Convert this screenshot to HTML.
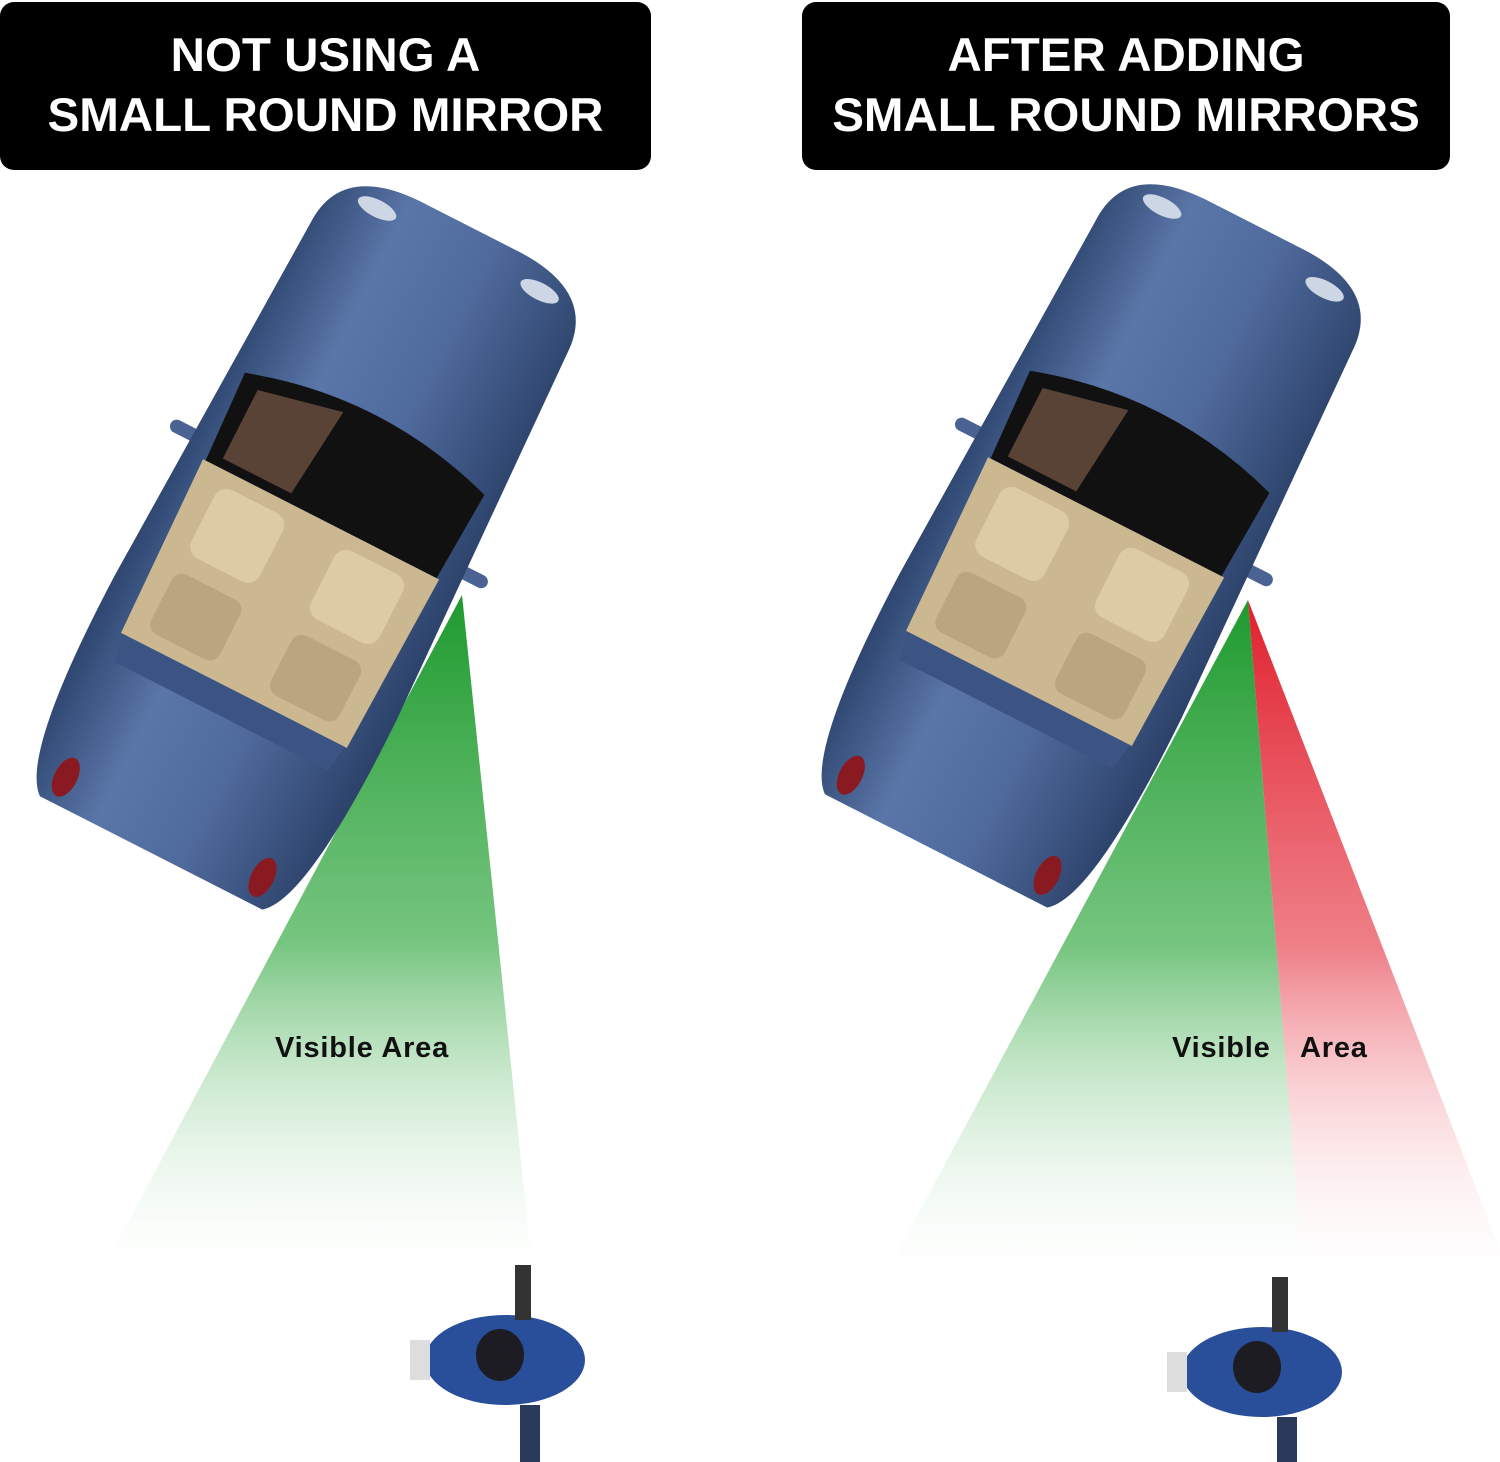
<!DOCTYPE html>
<html><head><meta charset="utf-8"><style>
html,body{margin:0;padding:0;background:#fff;}
body{width:1500px;height:1462px;overflow:hidden;position:relative;font-family:"Liberation Sans",sans-serif;}
.hdr{position:absolute;top:2px;height:168px;background:#000;border-radius:14px;color:#fff;font-weight:bold;font-size:47.5px;line-height:60px;text-align:center;display:flex;align-items:center;justify-content:center;}
.lbl{position:absolute;font-weight:bold;font-size:29px;letter-spacing:0.8px;color:#111;}
</style></head><body>
<svg width="1500" height="1462" style="position:absolute;left:0;top:0">
<defs>
<linearGradient id="gG" x1="0" y1="0" x2="0" y2="1"><stop offset="0" stop-color="#1e9a2e"/><stop offset="0.5" stop-color="#5fbb6a" stop-opacity="0.85"/><stop offset="1" stop-color="#ffffff" stop-opacity="0"/></linearGradient>
<linearGradient id="gR" x1="0" y1="0" x2="0" y2="1"><stop offset="0" stop-color="#e0202e"/><stop offset="0.5" stop-color="#ec6a74" stop-opacity="0.85"/><stop offset="1" stop-color="#ffffff" stop-opacity="0"/></linearGradient>
<linearGradient id="body" x1="0" y1="0" x2="1" y2="0"><stop offset="0" stop-color="#2e4670"/><stop offset="0.3" stop-color="#5a76a8"/><stop offset="0.6" stop-color="#4f6a9c"/><stop offset="1" stop-color="#2c426a"/></linearGradient>
<g id="car">
 <rect x="-185" y="-55" width="40" height="14" rx="7" fill="#4b6392"/>
 <rect x="145" y="-55" width="40" height="14" rx="7" fill="#4b6392"/>
 <path d="M-150,-300 Q-150,-370 -60,-372 L60,-372 Q150,-370 150,-300 L165,120 Q168,330 130,360 L-130,360 Q-168,330 -165,120 Z" fill="url(#body)"/>
 <path d="M-140,-130 Q0,-175 140,-130 L135,-30 L-135,-30 Z" fill="#111"/>
 <path d="M-120,-120 L-30,-140 L-40,-40 L-120,-40 Z" fill="#6b5040" opacity="0.8"/>
 <path d="M-138,-30 L138,-30 L132,170 L-132,170 Z" fill="#cbb890"/>
 <rect x="-110" y="-15" width="80" height="80" rx="14" fill="#ddcca3"/>
 <rect x="30" y="-15" width="80" height="80" rx="14" fill="#ddcca3"/>
 <rect x="-110" y="85" width="80" height="70" rx="12" fill="#b9a67e"/>
 <rect x="30" y="85" width="80" height="70" rx="12" fill="#b9a67e"/>
 <path d="M-130,170 L130,170 L125,200 L-125,200 Z" fill="#3c5484"/>
 <ellipse cx="-115" cy="330" rx="12" ry="22" fill="#8a1a22"/>
 <ellipse cx="115" cy="330" rx="12" ry="22" fill="#8a1a22"/>
 <ellipse cx="-95" cy="-345" rx="22" ry="9" fill="#cdd6e4"/>
 <ellipse cx="95" cy="-345" rx="22" ry="9" fill="#cdd6e4"/>
</g>
<g id="person">
 <ellipse cx="0" cy="0" rx="80" ry="45" fill="#2a4f9a"/>
 <ellipse cx="-5" cy="-5" rx="24" ry="26" fill="#1c1c22"/>
 <rect x="-95" y="-20" width="20" height="40" fill="#ddd"/>
 <rect x="15" y="45" width="20" height="60" fill="#2a3a5a"/>
 <rect x="10" y="-95" width="16" height="55" fill="#333"/>
</g>
</defs>
<polygon points="462,595 100,1275 535,1295" fill="url(#gG)"/>
<polygon points="1248,600 880,1285 1305,1300" fill="url(#gG)"/>
<polygon points="1248,600 1305,1300 1500,1290 1500,1250" fill="url(#gR)"/>
<use href="#car" transform="translate(308,545) rotate(27) scale(0.96)"/>
<use href="#car" transform="translate(1093,543) rotate(27) scale(0.96)"/>
<use href="#person" transform="translate(505,1360)"/>
<use href="#person" transform="translate(1262,1372)"/>
</svg>
<div class="hdr" style="left:0;width:651px;">NOT USING A<br>SMALL ROUND MIRROR</div>
<div class="hdr" style="left:802px;width:648px;">AFTER ADDING<br>SMALL ROUND MIRRORS</div>
<div class="lbl" style="left:275px;top:1032px;">Visible Area</div>
<div class="lbl" style="left:1172px;top:1032px;">Visible</div>
<div class="lbl" style="left:1300px;top:1032px;">Area</div>
</body></html>
